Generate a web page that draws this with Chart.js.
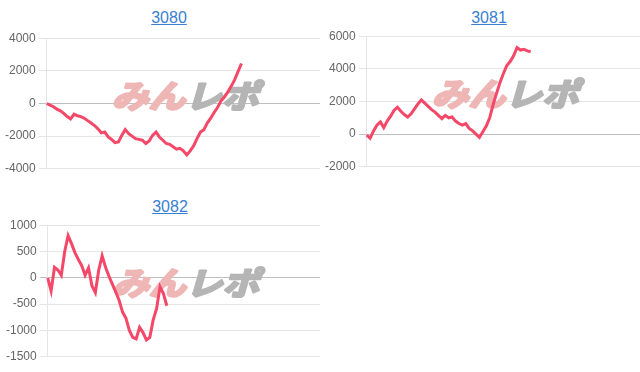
<!DOCTYPE html>
<html lang="ja">
<head>
<meta charset="utf-8">
<title>みんレポ</title>
<script src="https://cdn.jsdelivr.net/npm/chart.js@4.4.0/dist/chart.umd.min.js"></script>
<style>
    html, body {
        margin: 0;
        padding: 0;
        width: 640px;
        height: 372px;
        background: #fff;
        overflow: hidden;
        font-family: Arial, "Liberation Sans", sans-serif;
    }
    .title {
        position: absolute;
        width: 120px;
        text-align: center;
        font-size: 16px;
        line-height: 20px;
        color: #3a80d2;
        text-decoration: underline;
    }
    canvas {
        position: absolute;
    }
</style>
</head>
<body>
<a class="title" href="#" style="left:109px; top:8px;">3080</a>
<canvas id="chart3080" width="318" height="151" style="left:2px; top:28px;"></canvas>

<a class="title" href="#" style="left:429px; top:8px;">3081</a>
<canvas id="chart3081" width="318" height="151" style="left:322px; top:26px;"></canvas>

<a class="title" href="#" style="left:110px; top:197px;">3082</a>
<canvas id="chart3082" width="317" height="152" style="left:3px; top:215px;"></canvas>

<script>
// x positions (not shown on the chart)
const labels = Array.from({ length: 81 }, (_, i) => i + 1);

// daily balance for each machine
const values3080 = [
    0, -100, -200, -350, -450, -600, -800, -950, -650, -750,
    -800, -900, -1050, -1200, -1350, -1550, -1800, -1750, -2050, -2200,
    -2400, -2350, -1950, -1600, -1850, -2000, -2150, -2200, -2250, -2450,
    -2300, -1950, -1750, -2050, -2250, -2450, -2500, -2650, -2800, -2750,
    -2900, -3150, -2900, -2600, -2150, -1750, -1600, -1200, -900, -550,
    -250, 150, 400, 700, 1050, 1450, 1950, 2450
];
const values3081 = [
    -50, -250, 200, 550, 750, 400, 800, 1100, 1450, 1650,
    1400, 1200, 1050, 1250, 1550, 1850, 2100, 1900, 1700, 1500,
    1350, 1150, 950, 1150, 1000, 1050, 800, 650, 550, 650,
    350, 200, 0, -200, 150, 500, 1000, 1800, 2500, 3150,
    3700, 4200, 4450, 4800, 5300, 5150, 5200, 5100, 5050
];
const values3082 = [
    0, -250, 200, 150, 50, 500, 800, 650, 480, 350,
    230, 50, 190, -150, -280, 150, 420, 200, 30, -120,
    -270, -430, -650, -770, -1000, -1130, -1160, -940, -1040, -1180,
    -1130, -800, -580, -170, -300, -530
];

// y tick labels
const ticks3080 = [-4000, -2000, 0, 2000, 4000];
const ticks3081 = [-2000, 0, 2000, 4000, 6000];
const ticks3082 = [-1500, -1000, -500, 0, 500, 1000];

// みんレポ logo behind the line
const watermark = {
    id: 'watermark',
    beforeDatasetsDraw(chart) {
        const { ctx, chartArea: a } = chart;
        const cx = (a.left + a.right) / 2 + 2;
        const cy = (a.top + a.bottom) / 2 - 8;
        ctx.save();
        ctx.font = 'italic bold 32px "Noto Sans CJK JP"';
        ctx.textBaseline = 'middle';
        ctx.lineJoin = 'round';
        ctx.lineWidth = 2.5;
        const w1 = ctx.measureText('みん').width;
        const w2 = ctx.measureText('レポ').width;
        const total = w1 + w2;
        ctx.translate(cx, cy);
        ctx.scale(147 / total, 1);
        ctx.fillStyle = ctx.strokeStyle = '#efb6b6';
        ctx.strokeText('みん', -total / 2, 0);
        ctx.fillText('みん', -total / 2, 0);
        ctx.fillStyle = ctx.strokeStyle = '#b5b5b5';
        ctx.strokeText('レポ', -total / 2 + w1, 0);
        ctx.fillText('レポ', -total / 2 + w1, 0);
        ctx.restore();
    }
};

function drawChart(id, values, ticks) {
    const ctx = document.getElementById(id);
    return new Chart(ctx, {
        type: 'line',
        data: {
            labels: labels,
            datasets: [{
                data: values,
                borderColor: 'rgb(245, 72, 104)',
                borderWidth: 3,
                pointRadius: 0,
                fill: false,
                tension: 0
            }]
        },
        options: {
            responsive: false,
            animation: false,
            plugins: {
                legend: { display: false },
                tooltip: { enabled: false }
            },
            layout: { padding: 0 },
            scales: {
                x: { display: false },
                y: {
                    min: ticks[0],
                    max: ticks[ticks.length - 1],
                    ticks: {
                        stepSize: ticks[1] - ticks[0],
                        color: '#666',
                        padding: 3,
                        font: { family: 'Arial, "Liberation Sans"', size: 12 },
                        callback: v => String(v)
                    },
                    grid: {
                        tickLength: 8,
                        color: c => (c.tick && c.tick.value === 0) ? 'rgba(0,0,0,0.25)' : 'rgba(0,0,0,0.1)'
                    },
                    border: { color: 'rgba(0,0,0,0.1)' }
                }
            }
        },
        plugins: [watermark]
    });
}

drawChart('chart3080', values3080, ticks3080);
drawChart('chart3081', values3081, ticks3081);
drawChart('chart3082', values3082, ticks3082);
</script>
</body>
</html>
